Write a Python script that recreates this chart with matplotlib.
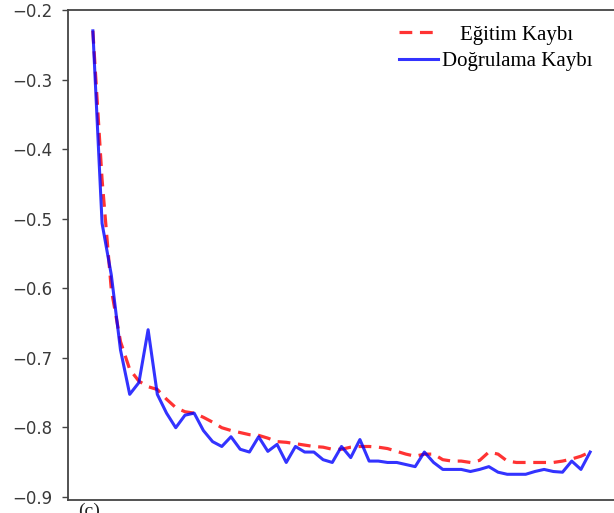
import numpy as np
import matplotlib
matplotlib.use("Agg")
import matplotlib.pyplot as plt
from matplotlib.transforms import ScaledTranslation

# loss curves (one value per epoch)
train_loss = [
    -0.230, -0.444, -0.602, -0.677, -0.717, -0.734, -0.742, -0.746, -0.760, -0.772,
    -0.778, -0.780, -0.786, -0.793, -0.801, -0.805, -0.808, -0.811, -0.812, -0.816,
    -0.821, -0.822, -0.824, -0.826, -0.828, -0.829, -0.832, -0.832, -0.829, -0.828,
    -0.828, -0.829, -0.831, -0.835, -0.839, -0.842, -0.839, -0.839, -0.847, -0.849,
    -0.849, -0.851, -0.848, -0.836, -0.839, -0.849, -0.851, -0.851, -0.851, -0.851,
    -0.851, -0.849, -0.846, -0.842, -0.836,
]
val_loss = [
    -0.230, -0.507, -0.581, -0.689, -0.753, -0.736, -0.660, -0.753, -0.780, -0.801,
    -0.783, -0.780, -0.805, -0.821, -0.828, -0.814, -0.832, -0.836, -0.814, -0.835,
    -0.825, -0.851, -0.828, -0.836, -0.836, -0.847, -0.851, -0.828, -0.844, -0.818,
    -0.849, -0.849, -0.851, -0.851, -0.854, -0.857, -0.836, -0.851, -0.861, -0.861,
    -0.861, -0.864, -0.861, -0.857, -0.865, -0.868, -0.868, -0.868, -0.864, -0.861,
    -0.864, -0.865, -0.849, -0.861, -0.836,
]
labels = ["Eğitim Kaybı", "Doğrulama Kaybı"]
yticks = [-0.9, -0.8, -0.7, -0.6, -0.5, -0.4, -0.3, -0.2]

W, H = 614, 513
fig = plt.figure(figsize=(W / 100, H / 100), dpi=100)
# axes runs a pixel past the right edge, as in the cropped original
ax = fig.add_axes([68 / W, 1 - 500 / H, (615 - 68) / W, 490 / H])

epochs = np.arange(len(train_loss))
ax.plot(epochs, train_loss, "--", color="red", lw=2.3, alpha=0.8,
        dashes=(4, 2.4), label=labels[0])
ax.plot(epochs, val_loss, "-", color="blue", lw=2.2, alpha=0.8, label=labels[1])

ax.set_ylim(-0.905, -0.2)
ax.set_yticks(yticks)
ax.set_yticklabels([f"\u2212{abs(v):.1f}" for v in yticks])
ax.set_xticks([])
ax.tick_params(axis="y", length=4, width=1, color="#444", pad=7,
               labelsize=12, labelcolor="#3a3a3a")
for s in ("left", "bottom", "top", "right"):
    ax.spines[s].set_color("#444")
    ax.spines[s].set_linewidth(1.3)

leg = ax.legend(loc="upper left", bbox_to_anchor=(399 / W, 1 - 25 / H),
                bbox_transform=fig.transFigure, frameon=False,
                prop={"family": "Liberation Serif", "size": 15},
                handlelength=1.85, handletextpad=0.2, labelspacing=0.35,
                borderpad=0, borderaxespad=0)

# centre the shorter label under the longer one, like the original legend
fig.canvas.draw()
r = fig.canvas.get_renderer()
t0, t1 = leg.get_texts()
dx = (t1.get_window_extent(r).width - t0.get_window_extent(r).width) / 2
t0.set_transform(t0.get_transform() + ScaledTranslation(dx / 100, 0, fig.dpi_scale_trans))

# panel letter, cropped at the bottom edge in the original
fig.text(78 / W, 1 - 503 / H, "(c)", family="Liberation Serif", size=14,
         va="top", ha="left", color="#222")

fig.savefig("out.png", dpi=100)
